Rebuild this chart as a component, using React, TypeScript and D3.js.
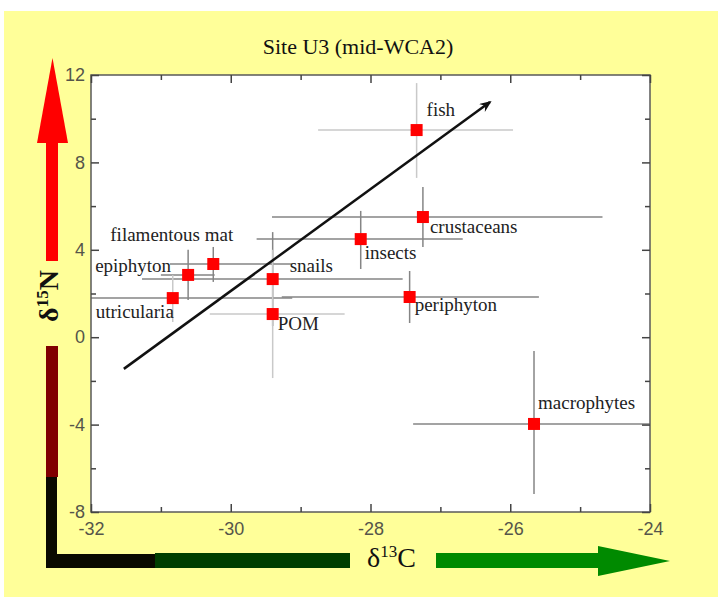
import React, { useEffect, useRef } from 'react';
import * as d3 from 'd3';

// food web sources, mean d13C / d15N with ranges
const sources = ['fish', 'crustaceans', 'insects', 'snails', 'periphyton', 'POM', 'macrophytes', 'filamentous mat', 'epiphyton', 'utricularia'];
const d13C = [-27.34, -27.25, -28.14, -29.4, -27.44, -29.4, -25.66, -30.25, -30.61, -30.83];
const d15N = [9.48, 5.5, 4.49, 2.66, 1.84, 1.06, -3.97, 3.35, 2.85, 1.79];
const d13CLow = [-28.75, -29.41, -29.63, -31.27, -29.27, -30.3, -27.39, -30.87, -31.0, -32.2];
const d13CHigh = [-25.96, -24.68, -26.68, -27.54, -25.59, -28.37, -23.9, -29.12, -30.23, -29.12];
const d15NLow = [7.29, 4.13, 3.12, 0.51, 0.65, -1.87, -7.18, 2.53, 1.7, 0.7];
const d15NHigh = [11.63, 6.87, 5.78, 4.81, 3.03, 4.0, -0.63, 4.13, 4.0, 2.85];

const xTicks = [-32, -30, -28, -26, -24];
const xMinor = [-31, -29, -27, -25];
const yTicks = [-8, -4, 0, 4, 8, 12];
const yMinor = [-6, -2, 2, 6, 10];

// trophic trend arrow (d13C, d15N)
const trendFrom = [-31.53, -1.45];
const trendTo = [-26.29, 10.76];

// which error bars are drawn pale
const paleBars: Record<string, string> = { fish: 'hv', POM: 'hv', utricularia: 'v' };
// label offsets from the marker, in px
const labelOffset: Record<string, [number, number]> = {
  fish: [10, -14],
  crustaceans: [7, 16],
  insects: [4, 20],
  snails: [17, -7],
  periphyton: [5, 14],
  POM: [5, 16],
  macrophytes: [4, -15],
  'filamentous mat': [-103, -23],
  epiphyton: [-93, -3],
  utricularia: [-77, 20]
};

const W = 718;
const H = 597;
const plot = { left: 91, right: 650, top: 75, bottom: 512 };

const App = () => {
  const ref = useRef<SVGGElement>(null);

  useEffect(() => {
    const g = d3.select(ref.current);
    g.selectAll('*').remove();

    const x = d3.scaleLinear().domain([-32, -24]).range([plot.left, plot.right]);
    const y = d3.scaleLinear().domain([-8, 12]).range([plot.bottom, plot.top]);

    g.append('rect')
      .attr('x', plot.left).attr('y', plot.top)
      .attr('width', plot.right - plot.left).attr('height', plot.bottom - plot.top)
      .attr('fill', 'white');

    g.append('clipPath').attr('id', 'plotclip')
      .append('rect')
      .attr('x', plot.left).attr('y', plot.top)
      .attr('width', plot.right - plot.left).attr('height', plot.bottom - plot.top);

    const rows = sources.map((name, i) => ({
      name, cx: d13C[i], cy: d15N[i],
      x0: d13CLow[i], x1: d13CHigh[i], y0: d15NLow[i], y1: d15NHigh[i]
    }));

    const bars = g.append('g').attr('clip-path', 'url(#plotclip)').attr('stroke-width', 1.5);
    bars.selectAll('line.h').data(rows).join('line')
      .attr('class', 'h')
      .attr('x1', d => x(d.x0)).attr('x2', d => x(d.x1))
      .attr('y1', d => y(d.cy)).attr('y2', d => y(d.cy))
      .attr('stroke', d => (paleBars[d.name] || '').includes('h') ? '#c9c9c9' : '#858585');
    bars.selectAll('line.v').data(rows).join('line')
      .attr('class', 'v')
      .attr('x1', d => x(d.cx)).attr('x2', d => x(d.cx))
      .attr('y1', d => y(d.y0)).attr('y2', d => y(d.y1))
      .attr('stroke', d => (paleBars[d.name] || '').includes('v') ? '#c9c9c9' : '#858585');

    // trend arrow
    const defs = g.append('defs');
    defs.append('marker')
      .attr('id', 'head').attr('viewBox', '0 0 12 10')
      .attr('refX', 10).attr('refY', 5)
      .attr('markerWidth', 12).attr('markerHeight', 10)
      .attr('markerUnits', 'userSpaceOnUse')
      .attr('orient', 'auto')
      .append('path').attr('d', 'M0,0 L12,5 L0,10 L4,5 Z').attr('fill', '#111');
    g.append('line')
      .attr('x1', x(trendFrom[0])).attr('y1', y(trendFrom[1]))
      .attr('x2', x(trendTo[0])).attr('y2', y(trendTo[1]))
      .attr('stroke', '#111').attr('stroke-width', 2.5)
      .attr('marker-end', 'url(#head)');

    g.append('g').selectAll('rect').data(rows).join('rect')
      .attr('x', d => x(d.cx) - 6).attr('y', d => y(d.cy) - 6)
      .attr('width', 12).attr('height', 12)
      .attr('fill', '#ff0000');

    g.append('g')
      .attr('font-family', '"Liberation Serif", "Times New Roman", serif')
      .attr('font-size', 19).attr('fill', '#222')
      .selectAll('text').data(rows).join('text')
      .attr('x', d => x(d.cx) + labelOffset[d.name][0])
      .attr('y', d => y(d.cy) + labelOffset[d.name][1])
      .text(d => d.name);

    // frame + ticks
    g.append('rect')
      .attr('x', plot.left).attr('y', plot.top)
      .attr('width', plot.right - plot.left).attr('height', plot.bottom - plot.top)
      .attr('fill', 'none').attr('stroke', '#5a5a5a').attr('stroke-width', 1.5);

    const styleAxis = (sel: any) => {
      sel.select('.domain').remove();
      sel.selectAll('.tick line').attr('stroke', '#444').attr('stroke-width', 1.5);
      sel.selectAll('.tick text')
        .attr('font-family', '"Liberation Sans", Arial, sans-serif')
        .attr('font-size', 18).attr('fill', '#55554a');
    };
    const plain = (d: any) => String(d);
    const none = () => '';

    g.append('g').attr('transform', `translate(0,${plot.bottom})`)
      .call(d3.axisBottom(x).tickValues(xTicks).tickSize(-8).tickPadding(10).tickFormat(plain))
      .call(styleAxis);
    g.append('g').attr('transform', `translate(0,${plot.bottom})`)
      .call(d3.axisBottom(x).tickValues(xMinor).tickSize(-5).tickFormat(none))
      .call(styleAxis);
    g.append('g').attr('transform', `translate(0,${plot.top})`)
      .call(d3.axisTop(x).tickValues(xTicks).tickSize(-8).tickFormat(none))
      .call(styleAxis);
    g.append('g').attr('transform', `translate(0,${plot.top})`)
      .call(d3.axisTop(x).tickValues(xMinor).tickSize(-5).tickFormat(none))
      .call(styleAxis);
    g.append('g').attr('transform', `translate(${plot.left},0)`)
      .call(d3.axisLeft(y).tickValues(yTicks).tickSize(-8).tickPadding(6).tickFormat(plain))
      .call(styleAxis);
    g.append('g').attr('transform', `translate(${plot.left},0)`)
      .call(d3.axisLeft(y).tickValues(yMinor).tickSize(-5).tickFormat(none))
      .call(styleAxis);
    g.append('g').attr('transform', `translate(${plot.right},0)`)
      .call(d3.axisRight(y).tickValues(yTicks).tickSize(-8).tickFormat(none))
      .call(styleAxis);
    g.append('g').attr('transform', `translate(${plot.right},0)`)
      .call(d3.axisRight(y).tickValues(yMinor).tickSize(-5).tickFormat(none))
      .call(styleAxis);
  }, []);

  return (
    <div style={{ position: 'absolute', left: 0, top: 0, width: W, height: H, background: 'white' }}>
      <svg width={W} height={H} style={{ display: 'block' }}>
        <rect x={4} y={11} width={W - 4} height={H - 11} fill="#ffff99" />
        <text x={358} y={54} textAnchor="middle" fontFamily='"Liberation Serif", serif' fontSize={22} fill="#111">
          Site U3 (mid-WCA2)
        </text>

        {/* d15N arrow */}
        <rect x={46} y={477} width={11} height={91} fill="#0a0a00" />
        <rect x={46} y={346} width={12} height={131} fill="#800000" />
        <rect x={46} y={140} width={12} height={121} fill="#ff0000" />
        <polygon points="52.5,58 37,143 68,143" fill="#ff0000" />
        <text transform="translate(58,296) rotate(-90)" textAnchor="middle" fontFamily='"Liberation Serif", serif'
          fontWeight="bold" fontSize={28} fill="#111">
          δ<tspan fontSize={17} dy={-10}>15</tspan><tspan dy={10}>N</tspan>
        </text>

        {/* d13C arrow */}
        <rect x={46} y={554} width={109} height={14} fill="#0a0a00" />
        <rect x={155} y={553} width={195} height={15} fill="#003f00" />
        <rect x={436} y={553} width={164} height={15} fill="#008a00" />
        <polygon points="598,546 670,561 598,576" fill="#008a00" />
        <text x={367} y={567} fontFamily='"Liberation Serif", serif' fontSize={28} fill="#111">
          δ<tspan fontSize={17} dy={-10}>13</tspan><tspan dy={10}>C</tspan>
        </text>

        <g ref={ref} />
      </svg>
    </div>
  );
};

export default App;
